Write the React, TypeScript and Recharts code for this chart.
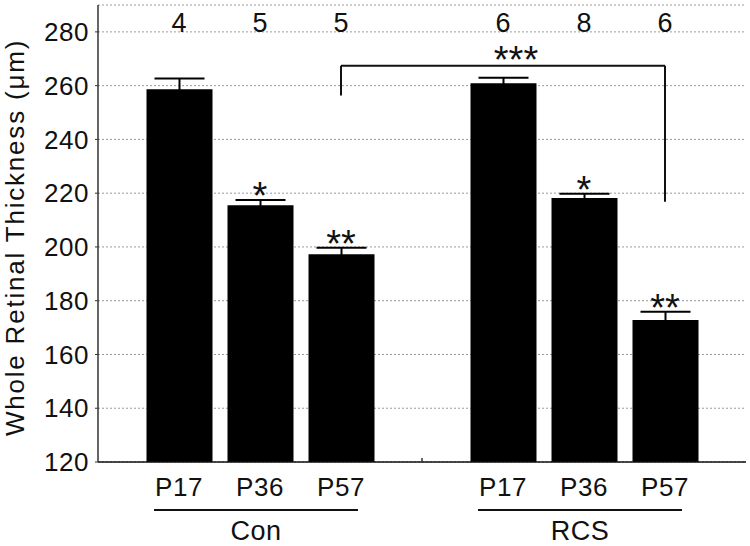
import {
  BarChart,
  Bar,
  XAxis,
  YAxis,
  CartesianGrid,
  ErrorBar,
  ReferenceLine,
  ReferenceDot,
  Label,
} from "recharts"

const categories = ["Con P17", "Con P36", "Con P57", "gap", "RCS P17", "RCS P36", "RCS P57"]
const tickLabels = ["P17", "P36", "P57", "", "P17", "P36", "P57"]
const thickness = [258.7, 215.5, 197.3, null, 260.9, 218.2, 172.8]
const sem = [4, 2, 2.4, 0, 2, 1.6, 3.1]
const nAnimals = ["4", "5", "5", "", "6", "8", "6"]
const stars = ["", "*", "**", "", "", "*", "**"]
const groupNames = ["Con", "RCS"]
const groupCenters = ["Con P36", "RCS P36"]
const yTicks = [120, 140, 160, 180, 200, 220, 240, 260, 280]

// bracket between Con P57 and RCS P57
const bracketX = ["Con P57", "RCS P57"]
const bracketY = [256.3, 267.4, 216.8]
const bracketStars = "***"

const FONT = "'Liberation Sans', Arial, sans-serif"

const data = categories.map((c, i) => ({ cat: c, value: thickness[i], err: sem[i] }))

function CategoryTick(props: any) {
  const { x, y, payload } = props
  const i = categories.indexOf(payload.value)
  const label = tickLabels[i]
  const g = groupCenters.indexOf(payload.value)
  if (!label) {
    return <line x1={x} x2={x} y1={y} y2={y - 4} stroke="#333" strokeWidth={1.5} />
  }
  return (
    <g>
      <text
        x={x}
        y={y + 34}
        textAnchor="middle"
        fontSize={26}
        letterSpacing={0.5}
        fontFamily={FONT}
        fill="#111"
      >
        {label}
      </text>
      {g >= 0 && (
        <g>
          <line x1={x - 106} x2={x + 98} y1={y + 48} y2={y + 48} stroke="#111" strokeWidth={2} />
          <text
            x={x - 4}
            y={y + 78}
            textAnchor="middle"
            fontSize={27}
            letterSpacing={0.5}
            fontFamily={FONT}
            fill="#111"
          >
            {groupNames[g]}
          </text>
        </g>
      )}
    </g>
  )
}

function starContent(text: string, size: number, shift = 0, drop = 9) {
  return (props: any) => {
    const { viewBox } = props
    return (
      <text
        x={viewBox.x + shift}
        y={viewBox.y + drop}
        textAnchor="middle"
        fontSize={size}
        fontFamily={FONT}
        fill="#111"
      >
        {text}
      </text>
    )
  }
}

export default function App() {
  return (
    <div style={{ position: "absolute", left: 0, top: 0, background: "#fff" }}>
      <BarChart
        width={750}
        height={546}
        data={data}
        margin={{ top: 5, right: 4, bottom: 0, left: 0 }}
        barCategoryGap={0}
      >
        <CartesianGrid vertical={false} stroke="#9a9a9a" strokeDasharray="2 2" />
        <XAxis
          dataKey="cat"
          height={84}
          padding={{ left: 40.5, right: 40.5 }}
          tickLine={false}
          tickSize={0}
          tickMargin={0}
          interval={0}
          axisLine={{ stroke: "#111", strokeWidth: 1.5 }}
          tick={<CategoryTick />}
        />
        <XAxis
          xAxisId="top"
          dataKey="cat"
          orientation="top"
          height={0}
          tick={false}
          tickLine={false}
          axisLine={{ stroke: "#333", strokeWidth: 1.5 }}
        />
        <YAxis
          width={98}
          domain={[120, 290]}
          ticks={yTicks}
          allowDataOverflow
          tickSize={3}
          tickMargin={6}
          tickLine={{ stroke: "#333" }}
          axisLine={{ stroke: "#333", strokeWidth: 1.5 }}
          tick={{ fontSize: 26, fill: "#111", fontFamily: FONT, letterSpacing: 0.5 }}
          label={{
            value: "Whole Retinal Thickness (μm)",
            content: (props: any) => {
              const vb = props.viewBox
              const cx = vb.x + 15
              const cy = vb.y + vb.height / 2 + 4
              return (
                <text
                  x={cx}
                  y={cy}
                  transform={`rotate(-90 ${cx} ${cy})`}
                  textAnchor="middle"
                  dominantBaseline="central"
                  fontSize={26}
                  letterSpacing={1.8}
                  fontFamily={FONT}
                  fill="#111"
                >
                  Whole Retinal Thickness (μm)
                </text>
              )
            },
          }}
        />
        <YAxis
          yAxisId="right"
          orientation="right"
          width={0}
          domain={[0, 1]}
          tick={false}
          tickLine={false}
          axisLine={{ stroke: "#333", strokeWidth: 1.5 }}
        />
        <Bar dataKey="value" fill="#000" barSize={66} isAnimationActive={false}>
          <ErrorBar dataKey="err" width={25} stroke="#000" strokeWidth={2} direction="y" />
        </Bar>

        {/* significance bracket */}
        <ReferenceLine
          segment={[
            { x: bracketX[0], y: bracketY[0] },
            { x: bracketX[0], y: bracketY[1] },
          ]}
          stroke="#111"
          strokeWidth={2}
          ifOverflow="visible"
        />
        <ReferenceLine
          segment={[
            { x: bracketX[0], y: bracketY[1] },
            { x: bracketX[1], y: bracketY[1] },
          ]}
          stroke="#111"
          strokeWidth={2}
          ifOverflow="visible"
        />
        <ReferenceLine
          segment={[
            { x: bracketX[1], y: bracketY[1] },
            { x: bracketX[1], y: bracketY[2] },
          ]}
          stroke="#111"
          strokeWidth={2}
          ifOverflow="visible"
        />
        <ReferenceDot x="RCS P17" y={bracketY[1]} r={0} ifOverflow="visible" stroke="none" fill="none">
          <Label content={starContent(bracketStars, 38, 13, 7)} />
        </ReferenceDot>

        {stars.map((s, i) =>
          s ? (
            <ReferenceDot
              key={"s" + i}
              x={categories[i]}
              y={(thickness[i] ?? 0) + sem[i]}
              r={0}
              ifOverflow="visible"
              stroke="none"
              fill="none"
            >
              <Label content={starContent(s, 38)} />
            </ReferenceDot>
          ) : null
        )}

        {nAnimals.map((n, i) =>
          n ? (
            <ReferenceDot
              key={"n" + i}
              x={categories[i]}
              y={280}
              r={0}
              ifOverflow="visible"
              stroke="none"
              fill="none"
            >
              <Label content={starContent(n, 27, 0, 0)} />
            </ReferenceDot>
          ) : null
        )}
      </BarChart>
    </div>
  )
}
